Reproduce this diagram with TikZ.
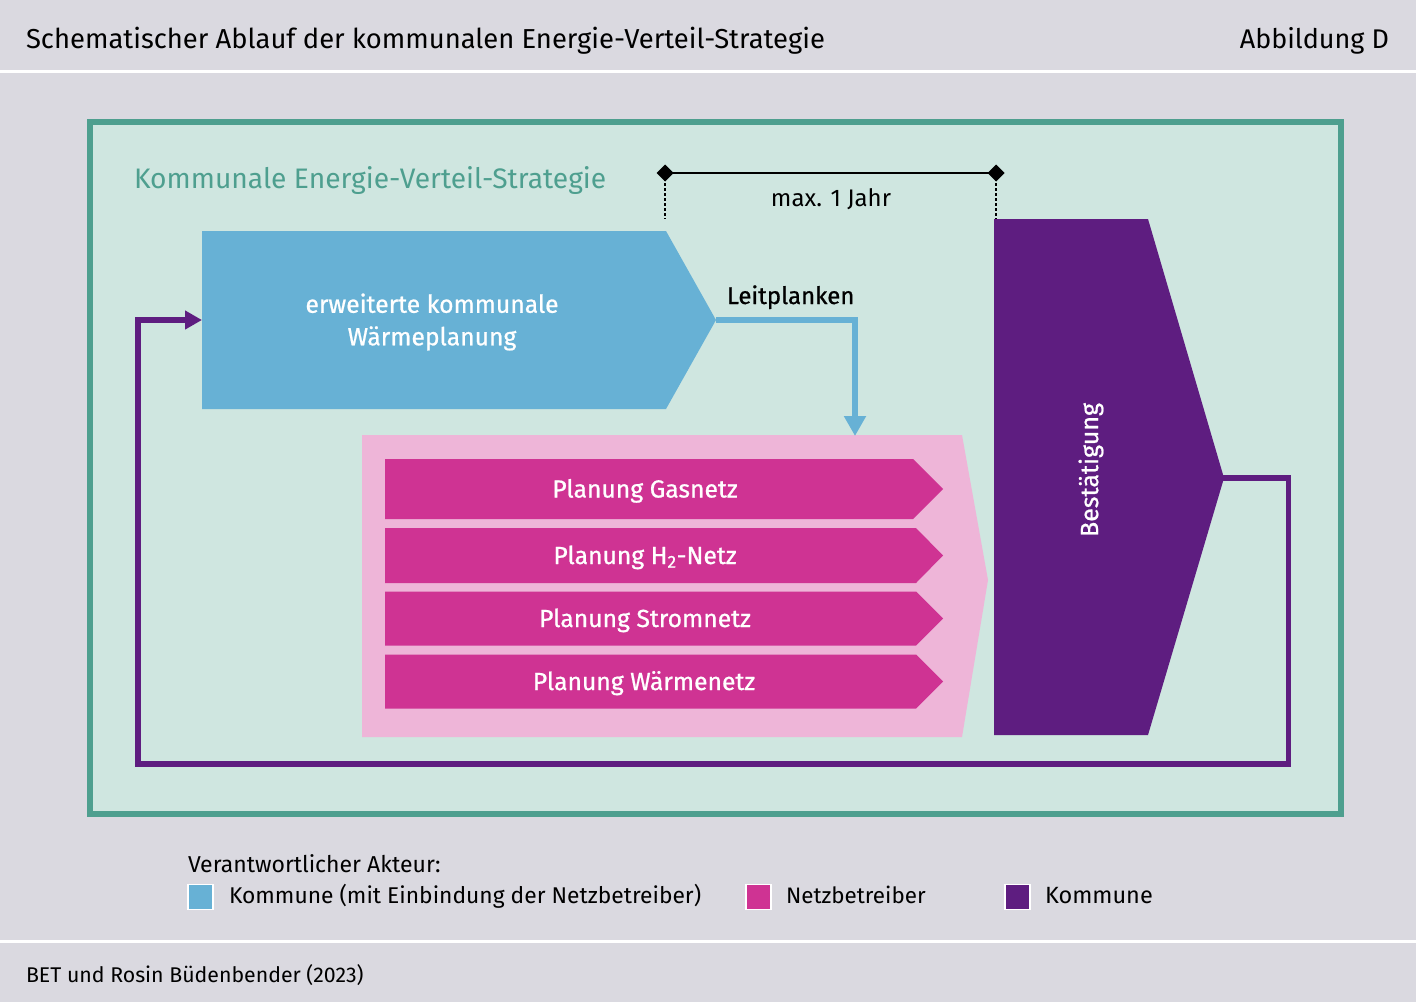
\documentclass[tikz,border=0pt]{standalone}
\usepackage{fontspec}
\setmainfont{Fira Sans}
\newfontfamily\medfont{Fira Sans}[FakeBold=0.8]
\usetikzlibrary{arrows.meta}
\definecolor{bgc}{HTML}{DAD9E0}
\definecolor{framec}{HTML}{4E9F8F}
\definecolor{areac}{HTML}{CFE6E0}
\definecolor{bluec}{HTML}{67B1D5}
\definecolor{pinkc}{HTML}{EEB5D8}
\definecolor{magc}{HTML}{CF3393}
\definecolor{purpc}{HTML}{5E1D80}
\newcommand\fsz[1]{\fontsize{#1}{32.5}\selectfont}
\tikzset{
  txt/.style={inner sep=0pt, outer sep=0pt},
  barlabel/.style={txt, font=\medfont\fsz{24.7}, white, anchor=base},
  legsq/.style={draw=white, line width=1.5pt, minimum size=25pt, inner sep=0pt},
  legtxt/.style={txt, anchor=base west},
  bluearrow/.style={draw=bluec, line width=6pt, -{Triangle[width=21pt,length=20pt]}},
  purparrow/.style={draw=purpc, line width=5.5pt, line join=miter, -{Triangle[width=18pt,length=17pt]}},
  dimline/.style={draw=black, line width=2.8pt, shorten <=-8.5pt, shorten >=-8.5pt,
    {Diamond[width=17pt,length=17pt]}-{Diamond[width=17pt,length=17pt]}},
  dimdash/.style={draw=black, line width=1.2pt, dash pattern=on 3pt off 2pt}
}
\begin{document}
\begin{tikzpicture}[x=1pt,y=-1pt]
\useasboundingbox (0,0) rectangle (1416,1002);
\fill[bgc] (0,0) rectangle (1416,1002);
\fill[white] (0,70) rectangle (1416,73);
\fill[white] (0,940) rectangle (1416,943);

% header / footer
\node[txt, font=\fsz{27.4}, anchor=base west] (title) at (26,48) {Schematischer Ablauf der kommunalen Energie-Verteil-Strategie};
\node[txt, font=\fsz{27}, anchor=base east] (abb) at (1389,48) {Abbildung D};
\node[txt, font=\fsz{21.3}, anchor=base west] (source) at (26,982) {BET und Rosin Büdenbender (2023)};

% frame
\draw[framec, fill=areac, line width=5.5pt] (90,122) rectangle (1341,814);
\node[txt, font=\fsz{28.2}, framec, anchor=base west] (ktitle) at (134,188) {Kommunale Energie-Verteil-Strategie};

% time span
\coordinate (dimL) at (665,173);
\coordinate (dimR) at (996,173);
\coordinate (dimLb) at (665,219);
\coordinate (dimRb) at (996,219);
\draw[dimdash] (dimL) -- (dimLb);
\draw[dimdash] (dimR) -- (dimRb);
\draw[dimline] (dimL) -- (dimR);
\node[txt, font=\fsz{24}, anchor=base] (maxj) at (831,206) {max. 1 Jahr};

% blue process
\fill[bluec] (202,231) -- (666,231) -- (716,320) -- (666,409) -- (202,409) -- cycle;
\coordinate (blueTip) at (716,320);
\coordinate (blueIn) at (202,320);
\node[txt, font=\medfont\fsz{24.7}, white, align=center] (blueLbl) at (432,322) {erweiterte kommunale\\Wärmeplanung};

% pink area
\fill[pinkc] (362,435) -- (962,435) -- (988,580) -- (962,737) -- (362,737) -- cycle;
\coordinate (pinkTop) at (855,436);

% magenta bars
\fill[magc] (385,459) -- (913,459) -- (943,489) -- (913,519) -- (385,519) -- cycle;
\fill[magc] (385,528) -- (916,528) -- (943,555.5) -- (916,583) -- (385,583) -- cycle;
\fill[magc] (385,591.5) -- (916,591.5) -- (943,618.5) -- (916,645.5) -- (385,645.5) -- cycle;
\fill[magc] (385,654.5) -- (916,654.5) -- (943,681.5) -- (916,708.5) -- (385,708.5) -- cycle;
\node[barlabel] (gas) at (645,497.5) {Planung Gasnetz};
\node[barlabel] (hzwei) at (645,564) {Planung H\textsubscript{2}-Netz};
\node[barlabel] (strom) at (645,627) {Planung Stromnetz};
\node[barlabel] (waerme) at (644,690) {Planung Wärmenetz};

% purple confirmation
\fill[purpc] (994,219) -- (1148,219) -- (1224,478) -- (1148,735) -- (994,735) -- cycle;
\coordinate (purpTip) at (1222,478);
\node[txt, font=\medfont\fsz{25}, white, rotate=90] (best) at (1091,470) {Bestätigung};

% connectors
\node[txt, font=\medfont\fsz{24}, anchor=base west] (leit) at (727,304) {Leitplanken};
\draw[bluearrow] (blueTip) -| (pinkTop);
\coordinate (loopA) at (1288.5,478);
\coordinate (loopB) at (138,764);
\draw[purparrow] (purpTip) -- (loopA) |- (loopB) |- (blueIn);

% legend
\node[txt, font=\fsz{23}, anchor=base west] (akteur) at (188,872) {Verantwortlicher Akteur:};
\node[legsq, fill=bluec] (sq1) at (200.5,897) {};
\node[legtxt, font=\fsz{22.8}] (lg1) at (229,903) {Kommune (mit Einbindung der Netzbetreiber)};
\node[legsq, fill=magc] (sq2) at (758.5,897) {};
\node[legtxt, font=\fsz{22.4}] (lg2) at (786,903) {Netzbetreiber};
\node[legsq, fill=purpc] (sq3) at (1017.5,897) {};
\node[legtxt, font=\fsz{23.5}] (lg3) at (1045,903) {Kommune};
\end{tikzpicture}
\end{document}
